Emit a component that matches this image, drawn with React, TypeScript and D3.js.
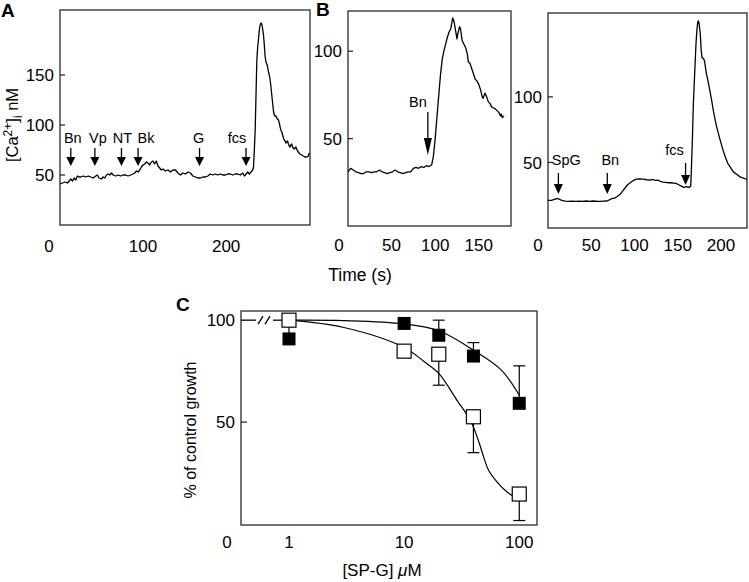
import React from "react";
import * as d3 from "d3";

// ---------- Panel A data ----------
const aTime = [0,3,6,9,11,13,15,17,19,21,23,25,28,31,34,37,40,43,45,47,50,52,54,56,58,60,62,64,67,70,73,76,79,82,85,88,90,92,94,96,98,100,102,104,106,108,110,112,114,116,118,120,122,124,127,130,133,136,139,142,145,148,151,154,157,160,163,166,169,172,175,178,181,184,187,190,193,196,199,202,205,208,211,214,217,220,222,224,226,228,230,232,233,234,235,236,237,238,239,240,241,242,243,244,245,246,247,248,249,250,251,252,253,254,255,256,257,258,259,260,261,262,263,264,265,266,267,268,269,270,271,272,273,274,275,276,277,278,279,280,281,282,283,284,285,286,287,288,289,291,293,295,297,299,300];
const aCa = [41,42,43,42,44,46,44,47,45,49,48,48,49,48,49,48,47,49,50,47,46,48,47,50,51,50,52,50,49,50,49,50,50,49,50,51,52,54,53,55,58,60,61,63,62,60,63,64,61,64,59,57,55,56,54,55,53,55,55,52,50,52,51,53,52,49,48,47,47,48,48,49,51,50,51,50,51,50,50,51,51,50,51,51,50,52,49,51,53,51,53,55,58,75,95,130,165,178,186,195,200,202,201,196,190,180,168,163,161,158,153,150,145,138,130,122,114,110,109,109,107,106,105,102,98,95,93,90,87,85,84,82,83,84,81,79,78,80,81,78,77,76,77,78,76,74,73,72,71,70,69,68,68,69,72];
const aArrowLabels = ["Bn","Vp","NT","Bk","G","fcs"];
const aArrowTimes = [13,42,74,94,168,224];
const aYTicks = [50,100,150];
const aXTicks = [0,100,200];

// ---------- Panel B (left) data ----------
const bTime = [0,3,6,9,12,15,18,21,24,27,30,33,36,39,42,45,48,51,54,57,60,63,66,69,72,75,78,81,84,87,90,93,96,98,100,102,104,106,108,110,112,114,116,118,120,121,122,124,125,126,128,129,131,133,135,137,138,140,142,144,146,148,150,152,154,155,157,159,161,163,165,167,169,171,173,175,176,177,179];
const bCa = [31,33,32,31,30.5,30,30,31,31,30.5,31,31,32,31,30.5,30,30.5,31,32,31,30.5,30,30.5,31,31,33,33.5,33,34,33.5,34.5,34,35,40,50,62,74,86,95,100,104,108,111,113,119,118,116,110,107,110,114,113,106,104,102,98,94,93,90,87,84,83,81,78,74,73,76,74,71,70,68,67.5,67,66,65,63,64,62,63];
const bArrowLabels = ["Bn"];
const bArrowTimes = [91.6];
const bYTicks = [50,100];
const bXTicks = [0,50,100,150];

// ---------- Panel B (right) data ----------
const rTime = [0,4,8,11,13,16,20,24,28,32,36,40,44,48,52,56,60,64,68,71,74,77,80,83,86,89,92,95,98,102,106,110,114,118,121,124,127,130,133,136,139,142,145,148,151,154,157,160,163,165,166,167,168,170,171,172,173,174,175,176,177,178,180,181,183,185,187,189,191,193,195,197,199,202,205,208,211,214,218,222,226,230];
const rCa = [21,21,22,22.5,22,21,20.5,20.3,20.5,20.3,20.5,20.3,20.6,20.3,20.6,20.4,20.3,20.5,20.6,21.5,22.5,22.8,24,25.5,28,30.5,33,34.5,36,37.3,37.5,37.3,36.8,36.5,37,36.3,36.5,35.5,35,34.8,34.5,34.5,34.3,34,33,32,31,31.5,31,32,50,70,95,125,140,150,157,158,154,148,136,130,129,127,118,112,105,98,90,83,77,72,67,60,54,49,46,43,41,39,38,37];
const rArrowLabels = ["SpG","Bn","fcs"];
const rArrowTimes = [12,68.5,159];
const rYTicks = [50,100];
const rXTicks = [0,50,100,150,200];

// ---------- Panel C data ----------
const cDose = [1,10,20,40,100];
const cOpen = [100,84.8,83.3,52.6,14.7];
const cOpenErr = [0,0,15.2,17.6,13];
const cFilled = [90.8,98.4,92.6,82.4,59.2];
const cFilledErr = [6,0,7.4,6.6,18.4];
const cFitFilledX = [1,3,10,20,40,70,100];
const cFitFilledY = [100,99.8,98.2,94.8,85.3,75.5,63.2];
const cFitOpenX = [1,3,10,15,20,28.7,37.5,44,49,54,64,78,100];
const cFitOpenY = [100,96.4,86.6,79.6,73.9,60.8,51,41.2,33,26.5,20.7,15.8,12];
const cYTicks = [50,100];
const cXTicks = [1,10,100];

const FONT = "'Liberation Sans', Arial, Helvetica, sans-serif";
const FRAME = "#2a2a2a";
const TICK_FS = 17;

type Scale = (v: number) => number;

function Frame({ x0, x1, y0, y1 }: { x0: number; x1: number; y0: number; y1: number }) {
  return <rect x={x0} y={y0} width={x1 - x0} height={y1 - y0} fill="none" stroke={FRAME} strokeWidth={1.3} />;
}

function Trace({ x, y, t, v }: { x: Scale; y: Scale; t: number[]; v: number[] }) {
  const line = d3.line<number>().x((_, i) => x(t[i])).y((d) => y(d));
  return <path d={line(v) || ""} fill="none" stroke="#000" strokeWidth={1.3} strokeLinejoin="round" />;
}

function Arrow({ x, top, tip, headLen, halfW = 4.5 }: { x: number; top: number; tip: number; headLen: number; halfW?: number }) {
  return (
    <g>
      <line x1={x} x2={x} y1={top} y2={tip - headLen + 1} stroke="#000" strokeWidth={1.3} />
      <path d={`M${x - halfW},${tip - headLen} L${x + halfW},${tip - headLen} L${x},${tip} Z`} fill="#000" />
    </g>
  );
}

function YTicks({ y, ticks, x0, len = 5 }: { y: Scale; ticks: number[]; x0: number; len?: number }) {
  return (
    <g>
      {ticks.map((t) => (
        <g key={t}>
          <line x1={x0} x2={x0 + len} y1={y(t)} y2={y(t)} stroke={FRAME} strokeWidth={1.3} />
          <text x={x0 - 6} y={y(t)} dy="0.36em" textAnchor="end" fontSize={TICK_FS}>{t}</text>
        </g>
      ))}
    </g>
  );
}

function XLabels({ x, ticks, yText, zeroDx = -10 }: { x: Scale; ticks: number[]; yText: number; zeroDx?: number }) {
  return (
    <g>
      {ticks.map((t) => (
        <text key={t} x={x(t) + (t === 0 ? zeroDx : 0)} y={yText} textAnchor="middle" fontSize={TICK_FS}>{t}</text>
      ))}
    </g>
  );
}

export default function App() {
  // Panel A
  const ax = d3.scaleLinear().domain([0, 301]).range([60, 310]);
  const ay = d3.scaleLinear().domain([0, 215]).range([225, 10]);
  const aLabelDx = [2, 3, 1, 8, -1, -9];
  // Panel B left
  const bx = d3.scaleLinear().domain([0, 187]).range([348, 511]);
  const by = d3.scaleLinear().domain([0, 123]).range([226, 11]);
  // Panel B right
  const rx = d3.scaleLinear().domain([0, 230]).range([548, 747]);
  const ry = d3.scaleLinear().domain([0, 164]).range([228, 13]);
  const rLabelDx = [8, 3, -11];
  // Panel C
  const cx = d3.scaleLog().domain([0.383, 142.6]).range([241, 537]);
  const cy = d3.scaleLinear().domain([0, 104.5]).range([524, 311]);

  const fitLine = d3
    .line<number>()
    .curve(d3.curveCatmullRom.alpha(0.5));
  const filledPath = fitLine(cFitFilledY.map((v, i) => [cx(cFitFilledX[i]), cy(v)]) as any) || "";
  const openPath = fitLine(cFitOpenY.map((v, i) => [cx(cFitOpenX[i]), cy(v)]) as any) || "";
  const sq = 14;
  const cap = 6;
  const y100 = cy(100);

  return (
    <div>
      <style>{`body{margin:0}`}</style>
      <svg width={749} height={582} style={{ display: "block" }} fontFamily={FONT}>
        <rect width={749} height={582} fill="#fff" />

        {/* ---------- Panel A ---------- */}
        <text x={1} y={17} fontSize={19} fontWeight="bold">A</text>
        <Frame x0={60} x1={310} y0={10} y1={225} />
        <YTicks y={ay} ticks={aYTicks} x0={60} />
        <XLabels x={ax} ticks={aXTicks} yText={252} zeroDx={-11} />
        <Trace x={ax} y={ay} t={aTime} v={aCa} />
        {aArrowTimes.map((t, i) => (
          <g key={i}>
            <Arrow x={ax(t)} top={148} tip={166} headLen={9} />
            <text x={ax(t) + aLabelDx[i]} y={143} textAnchor="middle" fontSize={14.5}>{aArrowLabels[i]}</text>
          </g>
        ))}
        <text transform="translate(18,125) rotate(-90)" textAnchor="middle" fontSize={16.5}>
          [Ca<tspan dy={-6} fontSize={12}>2+</tspan><tspan dy={6}>]</tspan><tspan dy={4} fontSize={12}>i</tspan><tspan dy={-4}> nM</tspan>
        </text>

        {/* ---------- Panel B left ---------- */}
        <text x={316} y={16} fontSize={19} fontWeight="bold">B</text>
        <Frame x0={348} x1={511} y0={11} y1={226} />
        <YTicks y={by} ticks={bYTicks} x0={348} />
        <XLabels x={bx} ticks={bXTicks} yText={251} zeroDx={-9} />
        <Trace x={bx} y={by} t={bTime} v={bCa} />
        {bArrowTimes.map((t, i) => (
          <g key={i}>
            <Arrow x={bx(t)} top={112} tip={155} headLen={17} halfW={4} />
            <text x={bx(t) - 10} y={107} textAnchor="middle" fontSize={14.5}>{bArrowLabels[i]}</text>
          </g>
        ))}
        <text x={360} y={281} textAnchor="middle" fontSize={17.5}>Time (s)</text>

        {/* ---------- Panel B right ---------- */}
        <Frame x0={548} x1={747} y0={13} y1={228} />
        <YTicks y={ry} ticks={rYTicks} x0={548} />
        <XLabels x={rx} ticks={rXTicks} yText={251} zeroDx={-10} />
        <Trace x={rx} y={ry} t={rTime} v={rCa} />
        {rArrowTimes.map((t, i) => {
          const isLast = i === rArrowTimes.length - 1;
          const top = isLast ? 163 : 173;
          const tip = isLast ? 185 : 194;
          return (
            <g key={i}>
              <Arrow x={rx(t)} top={top} tip={tip} headLen={10} />
              <text x={rx(t) + rLabelDx[i]} y={top - 8} textAnchor="middle" fontSize={14.5}>{rArrowLabels[i]}</text>
            </g>
          );
        })}

        {/* ---------- Panel C ---------- */}
        <text x={176} y={311} fontSize={19} fontWeight="bold">C</text>
        <Frame x0={241} x1={537} y0={311} y1={525} />
        {cYTicks.map((t) => (
          <g key={t}>
            {t !== 100 && <line x1={241} x2={247} y1={cy(t)} y2={cy(t)} stroke={FRAME} strokeWidth={1.3} />}
            <text x={235} y={cy(t)} dy="0.36em" textAnchor="end" fontSize={TICK_FS}>{t}</text>
          </g>
        ))}
        {/* axis break on the 100 % line */}
        <line x1={241} x2={256} y1={y100} y2={y100} stroke="#000" strokeWidth={1.3} />
        <line x1={258} x2={263} y1={y100 + 4} y2={y100 - 4} stroke="#000" strokeWidth={1.3} />
        <line x1={265} x2={270} y1={y100 + 4} y2={y100 - 4} stroke="#000" strokeWidth={1.3} />
        <line x1={273} x2={cx(1) - sq / 2} y1={y100} y2={y100} stroke="#000" strokeWidth={1.3} />

        <text x={227} y={548} textAnchor="middle" fontSize={TICK_FS}>0</text>
        {cXTicks.map((t) => (
          <text key={t} x={cx(t)} y={548} textAnchor="middle" fontSize={TICK_FS}>{t}</text>
        ))}

        <path d={filledPath} fill="none" stroke="#000" strokeWidth={1.2} />
        <path d={openPath} fill="none" stroke="#000" strokeWidth={1.2} />

        {/* error bars */}
        {cDose.map((d, i) =>
          cFilledErr[i] > 0 ? (
            <g key={"fe" + i}>
              <line x1={cx(d)} x2={cx(d)} y1={cy(cFilled[i])} y2={cy(cFilled[i] + cFilledErr[i])} stroke="#000" strokeWidth={1.2} />
              {i > 0 && <line x1={cx(d) - cap} x2={cx(d) + cap} y1={cy(cFilled[i] + cFilledErr[i])} y2={cy(cFilled[i] + cFilledErr[i])} stroke="#000" strokeWidth={1.2} />}
            </g>
          ) : null
        )}
        {cDose.map((d, i) =>
          cOpenErr[i] > 0 ? (
            <g key={"oe" + i}>
              <line x1={cx(d)} x2={cx(d)} y1={cy(cOpen[i])} y2={cy(cOpen[i] - cOpenErr[i])} stroke="#000" strokeWidth={1.2} />
              <line x1={cx(d) - cap} x2={cx(d) + cap} y1={cy(cOpen[i] - cOpenErr[i])} y2={cy(cOpen[i] - cOpenErr[i])} stroke="#000" strokeWidth={1.2} />
            </g>
          ) : null
        )}

        {cDose.map((d, i) => (
          <rect key={"f" + i} x={cx(d) - 6.5} y={cy(cFilled[i]) - 6.5} width={13} height={13} fill="#000" />
        ))}
        {cDose.map((d, i) => (
          <rect key={"o" + i} x={cx(d) - sq / 2} y={cy(cOpen[i]) - sq / 2} width={sq} height={sq} fill="#fff" stroke="#000" strokeWidth={1.2} />
        ))}

        <text transform="translate(196,430) rotate(-90)" textAnchor="middle" fontSize={16}>% of control growth</text>
        <text x={382} y={576} textAnchor="middle" fontSize={17}>
          [SP-G] <tspan fontStyle="italic">μ</tspan>M
        </text>
      </svg>
    </div>
  );
}
